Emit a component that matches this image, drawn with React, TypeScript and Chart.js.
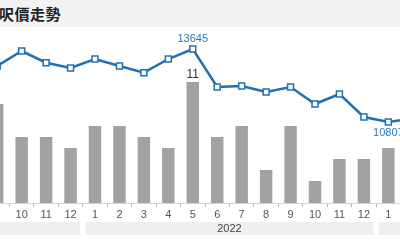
import React, { useEffect, useRef } from 'react';
import { Chart, registerables } from 'chart.js';

Chart.register(...registerables);

// Month tick labels (Sep 2021 .. Feb 2023)
const months = ['9', '10', '11', '12', '1', '2', '3', '4', '5', '6', '7', '8', '9', '10', '11', '12', '1', '2'];
const years = ['2021', '2021', '2021', '2021', '2022', '2022', '2022', '2022', '2022', '2022', '2022', '2022', '2022', '2022', '2022', '2022', '2023', '2023'];
// Average price per sq ft (line)
const pricePerSqft = [12984, 13567, 13112, 12906, 13256, 12984, 12724, 13256, 13645, 12168, 12206, 11973, 12168, 11507, 11895, 11001, 10807, 10940];
// Number of transactions (bars)
const transactions = [9, 6, 6, 5, 7, 7, 6, 5, 11, 6, 7, 3, 7, 2, 4, 4, 5, 5];

const LINE_COLOR = '#1f70b4';
const BAR_COLOR = '#a2a2a2';
const FONT = '"Liberation Sans", Arial, Helvetica, sans-serif';

const labelsPlugin = {
  id: 'valueLabels',
  afterDatasetsDraw(chart: any) {
    const ctx = chart.ctx;
    ctx.save();
    ctx.textAlign = 'center';
    ctx.textBaseline = 'middle';
    // price labels: highest above, lowest below
    const lineMeta = chart.getDatasetMeta(0);
    const maxI = pricePerSqft.indexOf(Math.max(...pricePerSqft));
    const minI = pricePerSqft.indexOf(Math.min(...pricePerSqft));
    ctx.font = `11px ${FONT}`;
    ctx.fillStyle = '#2a7bbb';
    const pMax = lineMeta.data[maxI];
    ctx.fillText(String(pricePerSqft[maxI]), pMax.x, pMax.y - 10);
    const pMin = lineMeta.data[minI];
    ctx.fillText(String(pricePerSqft[minI]), pMin.x, pMin.y + 11);
    // bar label: max bar
    const barMeta = chart.getDatasetMeta(1);
    const bI = transactions.indexOf(Math.max(...transactions));
    const b = barMeta.data[bI];
    ctx.font = `12px ${FONT}`;
    ctx.fillStyle = '#333';
    ctx.fillText(String(transactions[bI]), b.x, b.y - 7.5);
    ctx.restore();
  },
};

const yearBandPlugin = {
  id: 'yearBand',
  afterDraw(chart: any) {
    const ctx = chart.ctx;
    const xs = chart.scales.x;
    const top = xs.top + 19;
    const h = 13;
    ctx.save();
    let s = 0;
    while (s < years.length) {
      let e = s;
      while (e + 1 < years.length && years[e + 1] === years[s]) e++;
      const fullStart = s - (Number(months[s]) - 1);
      const fullEnd = fullStart + 11;
      const left = xs.getPixelForValue(fullStart - 0.5) + 2.5;
      const right = xs.getPixelForValue(fullEnd + 0.5) - 2.5;
      ctx.fillStyle = '#efefef';
      ctx.fillRect(left, top, right - left, h);
      ctx.fillStyle = '#444';
      ctx.font = `11px ${FONT}`;
      ctx.textAlign = 'center';
      ctx.textBaseline = 'middle';
      ctx.fillText(years[s], xs.getPixelForValue((fullStart + fullEnd) / 2), top + 7);
      s = e + 1;
    }
    ctx.restore();
  },
};

export default function App() {
  const ref = useRef<HTMLCanvasElement>(null);
  useEffect(() => {
    if (!ref.current) return;
    const chart = new Chart(ref.current, {
      type: 'bar',
      data: {
        labels: months,
        datasets: [
          {
            type: 'line',
            data: pricePerSqft,
            yAxisID: 'yLine',
            borderColor: LINE_COLOR,
            borderWidth: 2.5,
            pointStyle: 'rect',
            pointRadius: 4.2,
            pointBorderWidth: 1.5,
            pointBackgroundColor: '#ffffff',
            pointBorderColor: LINE_COLOR,
            tension: 0,
            order: 0,
            clip: false,
          } as any,
          {
            type: 'bar',
            data: transactions,
            yAxisID: 'yBar',
            backgroundColor: BAR_COLOR,
            barPercentage: 0.51,
            categoryPercentage: 1,
            order: 1,
          },
        ],
      },
      options: {
        animation: false,
        responsive: false,
        maintainAspectRatio: false,
        layout: { autoPadding: false, padding: { top: 3, left: 0, right: 0, bottom: 0 } },
        plugins: { legend: { display: false }, tooltip: { enabled: false } },
        scales: {
          x: {
            offset: true,
            grid: { display: true, drawOnChartArea: false, drawTicks: true, tickLength: 4, color: '#b5b5b5', offset: true },
            border: { display: true, color: '#d5d5d5' },
            ticks: { color: '#555', font: { family: FONT, size: 11 }, padding: 1, maxRotation: 0, autoSkip: false },
            afterFit: (scale: any) => {
              scale.height = 37;
            },
          },
          yBar: { display: false, min: 0, max: 15.73 },
          yLine: { display: false, min: 7658, max: 14384 },
        },
      } as any,
      plugins: [labelsPlugin, yearBandPlugin],
    });
    return () => chart.destroy();
  }, []);

  return (
    <div style={{ position: 'fixed', left: 0, top: 0, width: 400, height: 240, overflow: 'hidden', background: '#fff' }}>
      <div style={{ position: 'absolute', left: 0, top: 0, width: 400, height: 27, background: '#f1f2f4' }}>
        <span
          style={{
            position: 'absolute',
            left: -1,
            top: 0,
            lineHeight: '27px',
            fontFamily: '"Noto Sans CJK TC", sans-serif',
            fontWeight: 700,
            fontSize: 15,
            color: '#222',
            letterSpacing: 0.5,
          }}
        >
          呎價走勢
        </span>
      </div>
      <div style={{ position: 'absolute', left: -15, top: 27, width: 440, height: 213 }}>
        <canvas ref={ref} width={440} height={213} style={{ width: 440, height: 213, display: 'block' }} />
      </div>
    </div>
  );
}
